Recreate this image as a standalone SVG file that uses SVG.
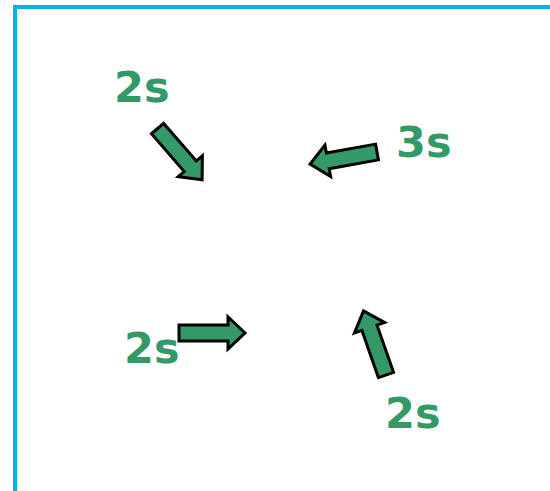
<svg xmlns="http://www.w3.org/2000/svg" width="550" height="491" viewBox="0 0 550 491">
<style>
.lbl{font-family:"DejaVu Sans",sans-serif;font-weight:bold;font-size:43px;fill:#339966}
.arr{fill:#339966;stroke:#000;stroke-width:3;stroke-linejoin:miter}
</style>
<defs>
<path id="a" d="M0,-8 L50,-8 L50,-16 L68,0 L50,16 L50,8 L0,8 Z"/>
<path id="b" d="M0,-8 L49,-8 L49,-16 L66,0 L49,16 L49,8 L0,8 Z"/>
</defs>
<rect x="15" y="7" width="560" height="500" fill="#fff" stroke="#00b0f0" stroke-width="4"/>
<g id="connectors">
<use href="#a" class="arr" transform="translate(157.5,128.5) rotate(49)"/>
<use href="#a" class="arr" transform="translate(377,152) rotate(169.8)"/>
<use href="#b" class="arr" transform="translate(179,333)"/>
<use href="#a" class="arr" transform="translate(386,375) rotate(-109.3)"/>
</g>
<g id="n1"><text class="lbl" x="114" y="102">2s</text></g>
<g id="n2"><text class="lbl" x="396" y="157">3s</text></g>
<g id="n3"><text class="lbl" x="124" y="363">2s</text></g>
<g id="n4"><text class="lbl" x="385" y="428">2s</text></g>
</svg>
